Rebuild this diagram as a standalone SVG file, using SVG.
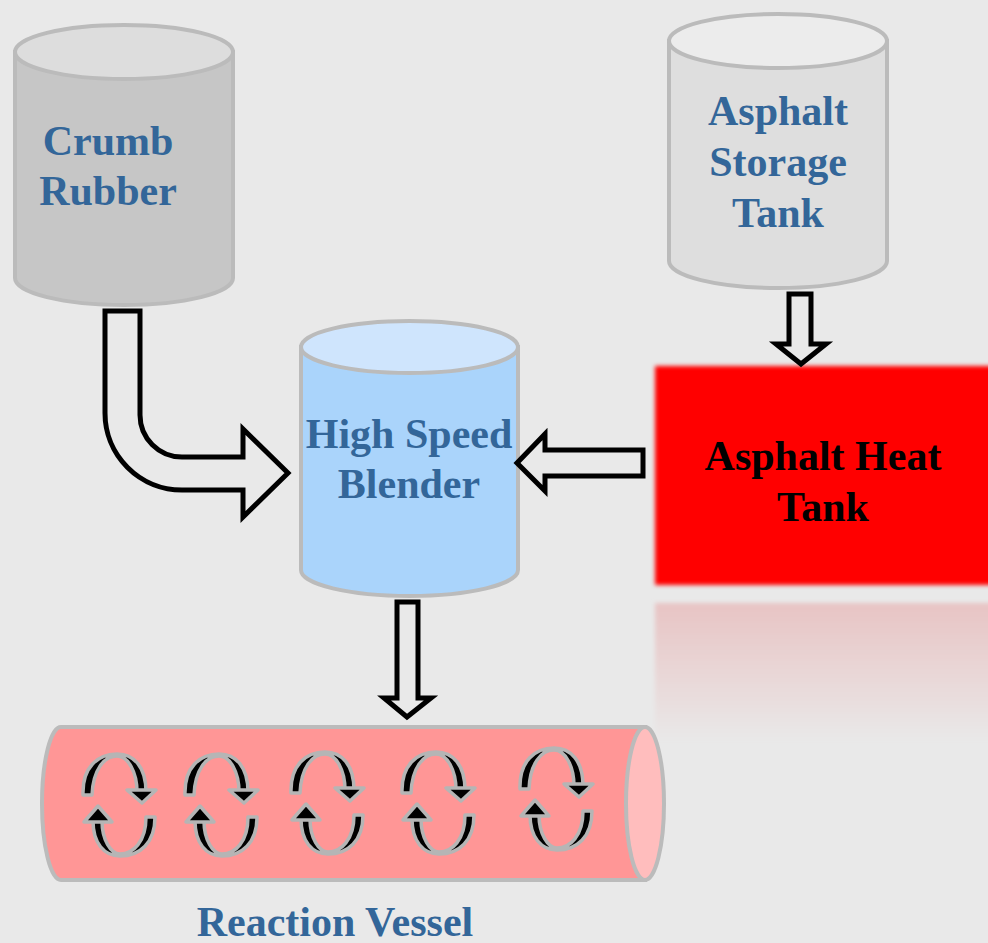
<svg xmlns="http://www.w3.org/2000/svg" width="988" height="943" viewBox="0 0 988 943">
  <defs>
    <style>
      .cyl { stroke: #bbbbbb; stroke-width: 4; }
      .lbl { font-family: "Liberation Serif", "Times New Roman", serif; font-weight: bold; font-size: 42px; text-anchor: middle; fill: #336699; }
      .lbl-dark { fill: #000000; }
      .block { fill: none; stroke: #000000; stroke-width: 5; stroke-linejoin: miter; }
      .sw { fill: #000000; stroke: #b5b5b5; stroke-width: 3.5; stroke-linejoin: round; }
    </style>
    <filter id="soft" x="-5%" y="-5%" width="110%" height="110%">
      <feGaussianBlur stdDeviation="2"/>
    </filter>
    <linearGradient id="reflect" x1="0" y1="0" x2="0" y2="1">
      <stop offset="0" stop-color="#e8c4c4"/>
      <stop offset="1" stop-color="#e9e9e9"/>
    </linearGradient>
    <!-- pair of curved mixing arrows, centred on the origin -->
    <g id="swirl">
      <path class="sw" d="M -35,-10 C -36,-38 -20,-51 -1,-51 C 16,-51 28,-38 28,-13 L 19,-13 C 19,-33 10,-49 -1,-49 C -14,-49 -25,-35 -26,-10 Z"/>
      <polygon class="sw" points="24,-2 9,-15 38,-15"/>
      <path class="sw" d="M 37,12 C 37,38 22,51 2,51 C -14,51 -25,38 -25,16 L -16,16 C -16,35 -7,49 2,49 C 15,49 28,37 28,12 Z"/>
      <polygon class="sw" points="-20,1 -34,17 -6,17"/>
    </g>
  </defs>

  <rect x="0" y="0" width="988" height="943" fill="#e9e9e9"/>

  <!-- Crumb rubber hopper -->
  <g id="crumb-rubber">
    <path class="cyl" fill="#c6c6c6" d="M 15,52 L 15,278 A 109,27 0 0 0 233,278 L 233,52 Z"/>
    <ellipse class="cyl" fill="#dddddd" cx="124" cy="52" rx="109" ry="27"/>
    <text class="lbl" x="108" y="155">Crumb</text>
    <text class="lbl" x="108" y="205">Rubber</text>
  </g>

  <!-- Asphalt storage tank -->
  <g id="asphalt-storage">
    <path class="cyl" fill="#dedede" d="M 669,41 L 669,261 A 109,27 0 0 0 887,261 L 887,41 Z"/>
    <ellipse class="cyl" fill="#ececec" cx="778" cy="41" rx="109" ry="27"/>
    <text class="lbl" x="778" y="125">Asphalt</text>
    <text class="lbl" x="778" y="176">Storage</text>
    <text class="lbl" x="778" y="227">Tank</text>
  </g>

  <!-- High speed blender -->
  <g id="blender">
    <path class="cyl" fill="#aad4fb" d="M 301,347 L 301,570 A 108.5,26 0 0 0 518,570 L 518,347 Z"/>
    <ellipse class="cyl" fill="#cfe5fd" cx="409.5" cy="347" rx="108.5" ry="26"/>
    <text class="lbl" x="409" y="448">High Speed</text>
    <text class="lbl" x="409" y="498">Blender</text>
  </g>

  <!-- Asphalt heat tank with its floor reflection -->
  <g id="heat-tank">
    <rect x="655" y="603" width="340" height="140" fill="url(#reflect)" filter="url(#soft)"/>
    <rect x="655" y="366" width="340" height="219" fill="#ff0000" filter="url(#soft)"/>
    <text class="lbl lbl-dark" x="823" y="470">Asphalt Heat</text>
    <text class="lbl lbl-dark" x="823" y="521">Tank</text>
  </g>

  <!-- Reaction vessel (horizontal drum) -->
  <g id="reaction-vessel">
    <path class="cyl" fill="#ff9696" d="M 645,727 L 61,727 A 19,76.5 0 0 0 61,880 L 645,880 Z"/>
    <ellipse class="cyl" fill="#ffbdbd" cx="645" cy="803.5" rx="19" ry="76.5"/>
    <use href="#swirl" transform="translate(118,805)"/>
    <use href="#swirl" transform="translate(220,805)"/>
    <use href="#swirl" transform="translate(326,803)"/>
    <use href="#swirl" transform="translate(437,803)"/>
    <use href="#swirl" transform="translate(555,799)"/>
    <text class="lbl" x="335" y="936">Reaction Vessel</text>
  </g>

  <!-- Flow connectors -->
  <g id="connectors">
    <path class="block" d="M 105,311 L 140,311 L 140,415 A 42,42 0 0 0 182,457 L 243,457 L 243,429 L 288,473 L 243,517 L 243,490 L 182,490 A 77,77 0 0 1 105,413 Z"/>
    <path class="block" d="M 789,294 L 811,294 L 811,344 L 826,344 L 801,364 L 776,344 L 789,344 Z"/>
    <path class="block" d="M 643,450 L 643,476 L 545,476 L 545,491 L 517,463 L 545,434 L 545,450 Z"/>
    <path class="block" d="M 397,602 L 418,602 L 418,698 L 431,698 L 407,717 L 384,698 L 397,698 Z"/>
  </g>
</svg>
